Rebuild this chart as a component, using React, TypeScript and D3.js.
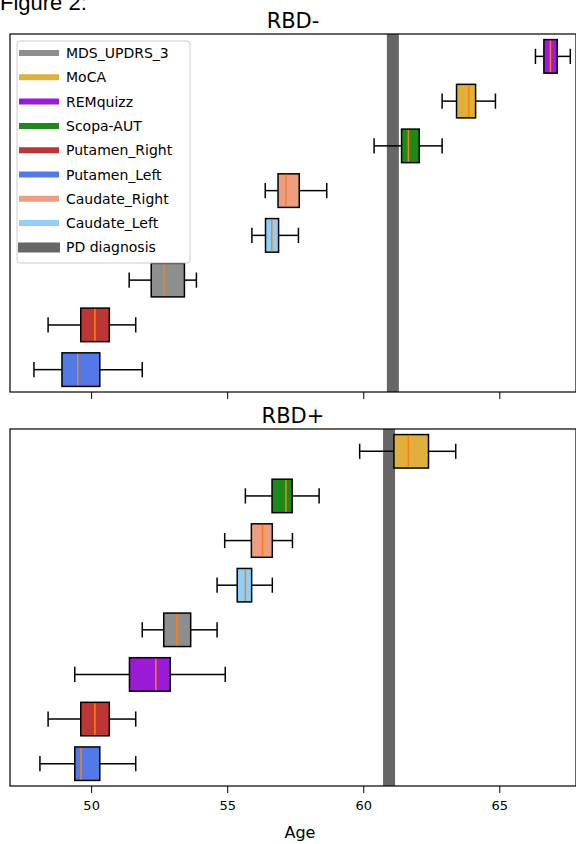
import React from 'react';
import * as d3 from 'd3';

// whisker low, q1, median, q3, whisker high -- listed from bottom row to top row
const rbdMinusCats = ['Putamen_Left', 'Putamen_Right', 'MDS_UPDRS_3', 'Caudate_Left', 'Caudate_Right', 'Scopa-AUT', 'MoCA', 'REMquizz'];
const rbdMinusStats = [
  [47.88, 48.91, 49.49, 50.3, 51.86],
  [48.4, 49.6, 50.12, 50.65, 51.62],
  [51.38, 52.19, 52.65, 53.41, 53.85],
  [55.89, 56.39, 56.62, 56.87, 57.6],
  [56.38, 56.85, 57.14, 57.63, 58.64],
  [60.38, 61.39, 61.64, 62.04, 62.88],
  [62.88, 63.41, 63.86, 64.11, 64.84],
  [66.31, 66.62, 66.86, 67.11, 67.59],
];
const rbdMinusPD = 61.07;

const rbdPlusCats = ['Putamen_Left', 'Putamen_Right', 'REMquizz', 'MDS_UPDRS_3', 'Caudate_Left', 'Caudate_Right', 'Scopa-AUT', 'MoCA'];
const rbdPlusStats = [
  [48.1, 49.38, 49.61, 50.3, 51.62],
  [48.4, 49.6, 50.12, 50.65, 51.62],
  [49.38, 51.39, 52.36, 52.89, 54.91],
  [51.86, 52.65, 53.12, 53.64, 54.61],
  [54.61, 55.35, 55.65, 55.88, 56.64],
  [54.89, 55.87, 56.28, 56.64, 57.38],
  [55.65, 56.63, 57.14, 57.37, 58.36],
  [59.85, 61.11, 61.64, 62.38, 63.38],
];
const rbdPlusPD = 60.93;

const legendItems = ['MDS_UPDRS_3', 'MoCA', 'REMquizz', 'Scopa-AUT', 'Putamen_Right', 'Putamen_Left', 'Caudate_Right', 'Caudate_Left'];
const xTicks = [50, 55, 60, 65];

const colors: { [key: string]: string } = {
  MDS_UPDRS_3: '#8e8e8e',
  MoCA: '#dfb03c',
  REMquizz: '#9a1ad6',
  'Scopa-AUT': '#1b8a1b',
  Putamen_Right: '#bd3636',
  Putamen_Left: '#5279e6',
  Caudate_Right: '#eb9e82',
  Caudate_Left: '#90d0f8',
};
const pdColor = '#666666';

const W = 576;
const H = 844;
const left = 10;
const right = 576;
const font = 'DejaVu Sans, sans-serif';

const x = d3.scaleLinear().domain([47.0, 67.8]).range([left, right]);

type PanelProps = {
  top: number;
  bottom: number;
  title: string;
  cats: string[];
  stats: number[][];
  pd: number;
  labels: boolean;
};

const Panel = ({ top, bottom, title, cats, stats, pd, labels }: PanelProps) => {
  const y = d3.scaleLinear().domain([0.5, 8.5]).range([bottom, top]);
  const band = y(0) - y(1);
  const boxH = band * 0.75;
  const capH = band * 0.34;
  return (
    <g>
      <text x={(left + right) / 2} y={top - 6} textAnchor="middle" fontFamily={font} fontSize={21}>
        {title}
      </text>
      <rect x={x(pd) - 6} y={top} width={12} height={bottom - top} fill={pdColor} />
      {stats.map((s, i) => {
        const cy = y(i + 1);
        const c = colors[cats[i]];
        return (
          <g key={i} stroke="#000" strokeWidth={1.5}>
            <line x1={x(s[0])} x2={x(s[1])} y1={cy} y2={cy} />
            <line x1={x(s[3])} x2={x(s[4])} y1={cy} y2={cy} />
            <line x1={x(s[0])} x2={x(s[0])} y1={cy - capH / 2} y2={cy + capH / 2} />
            <line x1={x(s[4])} x2={x(s[4])} y1={cy - capH / 2} y2={cy + capH / 2} />
            <rect x={x(s[1])} y={cy - boxH / 2} width={x(s[3]) - x(s[1])} height={boxH} fill={c} />
            <line x1={x(s[2])} x2={x(s[2])} y1={cy - boxH / 2 + 1} y2={cy + boxH / 2 - 1} stroke="#ff7f0e" />
          </g>
        );
      })}
      <rect x={left} y={top} width={right - left} height={bottom - top} fill="none" stroke="#000" strokeWidth={1.2} />
      {xTicks.map((t) => (
        <g key={t}>
          <line x1={x(t)} x2={x(t)} y1={bottom} y2={bottom + 7} stroke="#000" strokeWidth={1} />
          {labels && (
            <text x={x(t)} y={bottom + 24} textAnchor="middle" fontFamily={font} fontSize={13}>
              {t}
            </text>
          )}
        </g>
      ))}
    </g>
  );
};

const Legend = () => {
  const lx = 17;
  const ly = 41;
  const rowH = 24.3;
  return (
    <g>
      <rect x={lx} y={ly} width={173} height={222} rx={3} fill="#fff" fillOpacity={0.8} stroke="#cccccc" strokeWidth={1} />
      {legendItems.map((name, i) => {
        const cy = ly + 12 + i * rowH;
        return (
          <g key={name}>
            <line x1={lx + 2} x2={lx + 42} y1={cy} y2={cy} stroke={colors[name]} strokeWidth={6} />
            <text x={lx + 49} y={cy + 5} fontFamily={font} fontSize={14}>
              {name}
            </text>
          </g>
        );
      })}
      <line x1={lx + 1} x2={lx + 43} y1={ly + 12 + 8 * rowH} y2={ly + 12 + 8 * rowH} stroke={pdColor} strokeWidth={10} />
      <text x={lx + 49} y={ly + 12 + 8 * rowH + 5} fontFamily={font} fontSize={14}>
        PD diagnosis
      </text>
    </g>
  );
};

export default function App() {
  return (
    <svg width={W} height={H} style={{ position: 'absolute', left: 0, top: 0, background: '#fff' }}>
      <text x={0} y={10} fontFamily="Liberation Sans, Arial, sans-serif" fontSize={22}>
        Figure 2:
      </text>
      <Panel top={34} bottom={392} title="RBD-" cats={rbdMinusCats} stats={rbdMinusStats} pd={rbdMinusPD} labels={false} />
      <Legend />
      <Panel top={429} bottom={786} title="RBD+" cats={rbdPlusCats} stats={rbdPlusStats} pd={rbdPlusPD} labels={true} />
      <text x={(left + right) / 2 + 7} y={838} textAnchor="middle" fontFamily={font} fontSize={16}>
        Age
      </text>
    </svg>
  );
}
